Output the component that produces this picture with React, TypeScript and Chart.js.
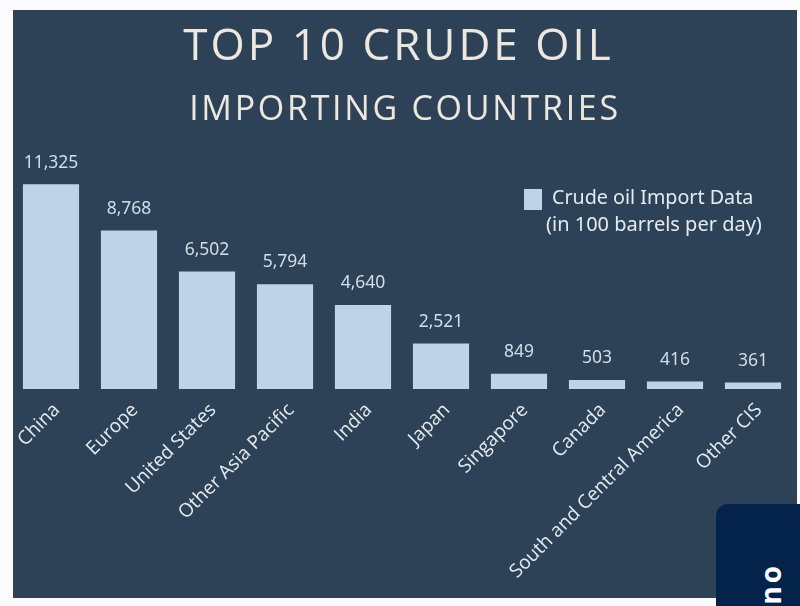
import React, { useEffect, useRef } from 'react';
import { Chart, registerables } from 'chart.js';

Chart.register(...registerables);

const categories = ['China', 'Europe', 'United States', 'Other Asia Pacific', 'India', 'Japan', 'Singapore', 'Canada', 'South and Central America', 'Other CIS'];
const imports = [11325, 8768, 6502, 5794, 4640, 2521, 849, 503, 416, 361];
const seriesName = 'Crude oil Import Data';
const seriesNote = '(in 100 barrels per day)';

const textFont = '"Noto Sans", sans-serif';
const titleFont = '"Open Sans", sans-serif';

// draws the value above each bar
const valueLabels = {
  id: 'valueLabels',
  afterDatasetsDraw(chart: any) {
    const { ctx } = chart;
    const meta = chart.getDatasetMeta(0);
    ctx.save();
    ctx.fillStyle = '#d3dde7';
    ctx.font = `17.5px ${textFont}`;
    ctx.textAlign = 'center';
    ctx.textBaseline = 'bottom';
    meta.data.forEach((bar: any, i: number) => {
      ctx.fillText(imports[i].toLocaleString('en-US'), bar.x, bar.y - 13);
    });
    ctx.restore();
  }
};

export default function App() {
  const chartRef = useRef<HTMLCanvasElement>(null);

  useEffect(() => {
    document.body.style.margin = '0';
    document.body.style.background = '#fbfbfd';
    if (!chartRef.current) return;
    const chart = new Chart(chartRef.current, {
      type: 'bar',
      data: {
        labels: categories,
        datasets: [{
          label: seriesName,
          data: imports,
          backgroundColor: '#bfd3e8',
          barPercentage: 0.72,
          categoryPercentage: 1
        }]
      },
      options: {
        responsive: false,
        animation: false,
        layout: { padding: { left: 12, right: 8, top: 154, bottom: 0 } },
        plugins: { legend: { display: false }, title: { display: false }, tooltip: { enabled: false } },
        scales: {
          x: {
            grid: { display: false },
            border: { display: false },
            afterFit: (scale: any) => { scale.height = 217; },
            ticks: {
              color: '#e4ebf0',
              font: { family: titleFont, size: 19 },
              minRotation: 45,
              maxRotation: 45,
              autoSkip: false,
              padding: 2,
              labelOffset: 6
            }
          },
          y: { display: false, min: 0, max: 13000 }
        }
      },
      plugins: [valueLabels]
    });
    return () => chart.destroy();
  }, []);

  return (
    <div style={{ position: 'relative', width: 800, height: 606, overflow: 'hidden' }}>
      <div style={{ position: 'absolute', left: 13, top: 10, width: 784, height: 588, background: '#2e4257' }} />
      <canvas ref={chartRef} width={800} height={606} style={{ position: 'absolute', left: 0, top: 0 }} />
      <div style={{ position: 'absolute', left: 0, width: 797, top: 16, textAlign: 'center', color: '#ece8e0', fontFamily: titleFont, fontSize: 44, lineHeight: '54px', letterSpacing: 3 }}>TOP 10 CRUDE OIL</div>
      <div style={{ position: 'absolute', left: 5, width: 800, top: 86, textAlign: 'center', color: '#ece8e0', fontFamily: titleFont, fontSize: 34, lineHeight: '42px', letterSpacing: 2.7 }}>IMPORTING COUNTRIES</div>
      <div style={{ position: 'absolute', left: 524, top: 189, width: 18, height: 21, background: '#bfd3e8' }} />
      <div style={{ position: 'absolute', left: 552, top: 184, color: '#e4ebf0', fontFamily: textFont, fontSize: 19.7, lineHeight: '26px', whiteSpace: 'nowrap' }}>{seriesName}</div>
      <div style={{ position: 'absolute', left: 546, top: 211, color: '#e4ebf0', fontFamily: textFont, fontSize: 20, lineHeight: '26px', whiteSpace: 'nowrap' }}>{seriesNote}</div>
      <div style={{ position: 'absolute', left: 716, top: 504, width: 120, height: 140, background: '#04234b', borderRadius: 12 }} />
      <div style={{ position: 'absolute', left: 758, top: 566, width: 40, color: '#fff', fontFamily: titleFont, fontWeight: 700, fontSize: 28, lineHeight: '36px', letterSpacing: 3, transform: 'rotate(90deg)', transformOrigin: '18px 18px', whiteSpace: 'nowrap' }}>ou</div>
    </div>
  );
}
